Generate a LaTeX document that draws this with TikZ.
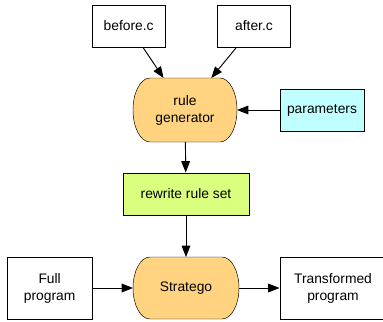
\documentclass[tikz,border=0pt]{standalone}
\usepackage{fontspec}
\setmainfont{Liberation Sans}
\usetikzlibrary{arrows.meta,backgrounds}
\definecolor{genorange}{RGB}{255,211,127}
\definecolor{rulegreen}{RGB}{218,255,127}
\definecolor{parcyan}{RGB}{192,255,255}
% outline of a tool node: flat top and bottom, half-elliptic ends
\newcommand\pillshape[2]{%
  \draw[fill=genorange] ([xshift=0.51cm]#1.north west) -- ([xshift=-0.51cm]#1.north east)
    arc[start angle=90,end angle=-90,x radius=0.51cm,y radius=#2]
    -- ([xshift=0.51cm]#1.south west)
    arc[start angle=270,end angle=90,x radius=0.51cm,y radius=#2] -- cycle;}
\begin{document}
\begin{tikzpicture}[line width=0.8pt,>={Triangle[length=3.4mm,width=2.6mm]},
  every node/.style =
   {draw,align=center,inner sep=2pt,font=\fontsize{11.8}{14.5}\selectfont},
  box/.style  = {minimum width=2.2cm,minimum height=1.26cm},
  tall/.style = {minimum width=2.55cm,minimum height=1.86cm},
  blob/.style = {draw=none,outer sep=0pt,minimum height=1.9cm}]
   \useasboundingbox (0,0) rectangle (11.49,-9.63);
   \node[box] (before) at (3.86,-0.78) {before.c};
   \node[box] (after) at (7.62,-0.78) {after.c};
   \node[blob,minimum width=3.12cm,minimum height=1.92cm] (gen) at (5.55,-3.30) {rule\\generator};
   \node[box,minimum width=2.52cm,fill=parcyan] (par) at (9.66,-3.30) {parameters};
   \node[box,minimum width=3.78cm,fill=rulegreen] (rules) at (5.58,-5.82) {rewrite rule set};
   \node[blob,minimum width=3.18cm,minimum height=1.86cm] (strat) at (5.58,-8.64) {Stratego};
   \node[tall] (full) at (1.49,-8.64) {Full\\program};
   \node[tall,minimum width=3.18cm] (trans) at (9.99,-8.64) {Transformed\\program};
   \begin{scope}[on background layer]
     \pillshape{gen}{0.96cm}
     \pillshape{strat}{0.93cm}
   \end{scope}
   \draw[->] (before) -- (gen);
   \draw[->] (after) -- (gen);
   \draw[->] (par) -- (gen);
   \draw[->] (gen) -- (rules);
   \draw[->] (rules) -- (strat);
   \draw[->] (full) -- (strat);
   \draw[->] (strat) -- (trans);
\end{tikzpicture}
\end{document}
